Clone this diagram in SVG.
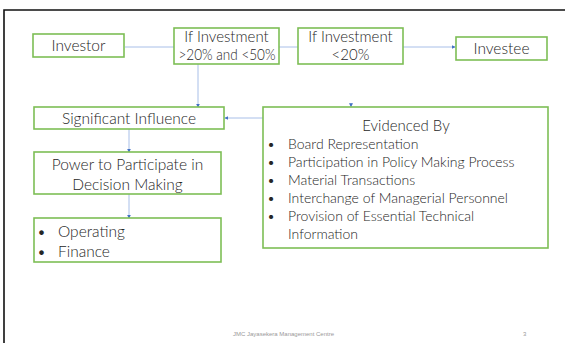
<svg xmlns="http://www.w3.org/2000/svg" width="565" height="343" viewBox="0 0 565 343">
<defs>
<marker id="ah" viewBox="0 0 6 6" refX="5" refY="3" markerWidth="4" markerHeight="4" orient="auto" markerUnits="userSpaceOnUse">
<path d="M0,0 L6,3 L0,6 z" fill="#4472C4"/>
</marker>
<style>
.box{fill:#fff;stroke:#7DBE55;stroke-width:1.6}
.t{font-family:Lato,"Open Sans",sans-serif;font-size:15.5px;fill:#262626;font-weight:300}
.h{font-size:15px}
.b{font-size:14px}
.c{text-anchor:middle}
.ln{stroke:#A8BFE8;stroke-width:1;fill:none}
.ft{font-family:"Liberation Sans",sans-serif;font-size:6px;fill:#999}
</style>
</defs>
<rect width="565" height="343" fill="#fff"/>
<path d="M4,343 V10 H565" fill="none" stroke="#111" stroke-width="1.6"/>
<g id="connectors">
<path class="ln" d="M125,47 H174"/>
<path class="ln" d="M279,47 H298"/>
<path class="ln" d="M403,47 H455" marker-end="url(#ah)"/>
<path class="ln" d="M198,64 V107" marker-end="url(#ah)"/>
<path class="ln" d="M351,103 V106.5" marker-end="url(#ah)"/>
<path class="ln" d="M263,118 H225" marker-end="url(#ah)"/>
<path class="ln" d="M129,129 V152" marker-end="url(#ah)"/>
<path class="ln" d="M129,194 V218" marker-end="url(#ah)"/>
</g>
<g id="investor">
<rect class="box" x="33" y="34" width="91" height="23"/>
<text class="t c" x="78.5" y="51">Investor</text>
</g>
<g id="if-investment-20-50">
<rect class="box" x="174" y="28" width="105" height="36"/>
<text class="t h c" x="226.5" y="42">If Investment</text>
<text class="t h c" x="227" y="60" textLength="97" lengthAdjust="spacingAndGlyphs">&gt;20% and &lt;50%</text>
</g>
<g id="if-investment-20">
<rect class="box" x="298" y="28" width="105" height="36"/>
<text class="t h c" x="350.5" y="42">If Investment</text>
<text class="t h c" x="350.5" y="60">&lt;20%</text>
</g>
<g id="investee">
<rect class="box" x="456" y="37" width="91" height="23"/>
<text class="t c" x="501.5" y="53.5">Investee</text>
</g>
<g id="significant-influence">
<rect class="box" x="34" y="107" width="190" height="22"/>
<text class="t c" x="129" y="123.5">Significant Influence</text>
</g>
<g id="power">
<rect class="box" x="34" y="152" width="187" height="42"/>
<text class="t c" x="127.5" y="169.5">Power to Participate in</text>
<text class="t c" x="127.5" y="189.5">Decision Making</text>
</g>
<g id="operating-finance">
<rect class="box" x="34" y="218" width="187" height="44"/>
<text class="t" x="37" y="236.5">•</text>
<text class="t" x="58" y="236.5">Operating</text>
<text class="t" x="37" y="256.5">•</text>
<text class="t" x="58" y="256.5">Finance</text>
</g>
<g id="evidenced-by">
<rect class="box" x="263" y="107" width="285" height="141"/>
<text class="t h c" x="406" y="130.5">Evidenced By</text>
<text class="t b" x="267" y="149">•</text>
<text class="t b" x="288" y="149">Board Representation</text>
<text class="t b" x="267" y="167">•</text>
<text class="t b" x="288" y="167">Participation in Policy Making Process</text>
<text class="t b" x="267" y="185">•</text>
<text class="t b" x="288" y="185">Material Transactions</text>
<text class="t b" x="267" y="203">•</text>
<text class="t b" x="288" y="203">Interchange of Managerial Personnel</text>
<text class="t b" x="267" y="221">•</text>
<text class="t b" x="288" y="221">Provision of Essential Technical</text>
<text class="t b" x="288" y="239">Information</text>
</g>
<text class="ft" x="233" y="336">JMC Jayasekera Management Centre</text>
<text class="ft" x="523" y="336">3</text>
</svg>
